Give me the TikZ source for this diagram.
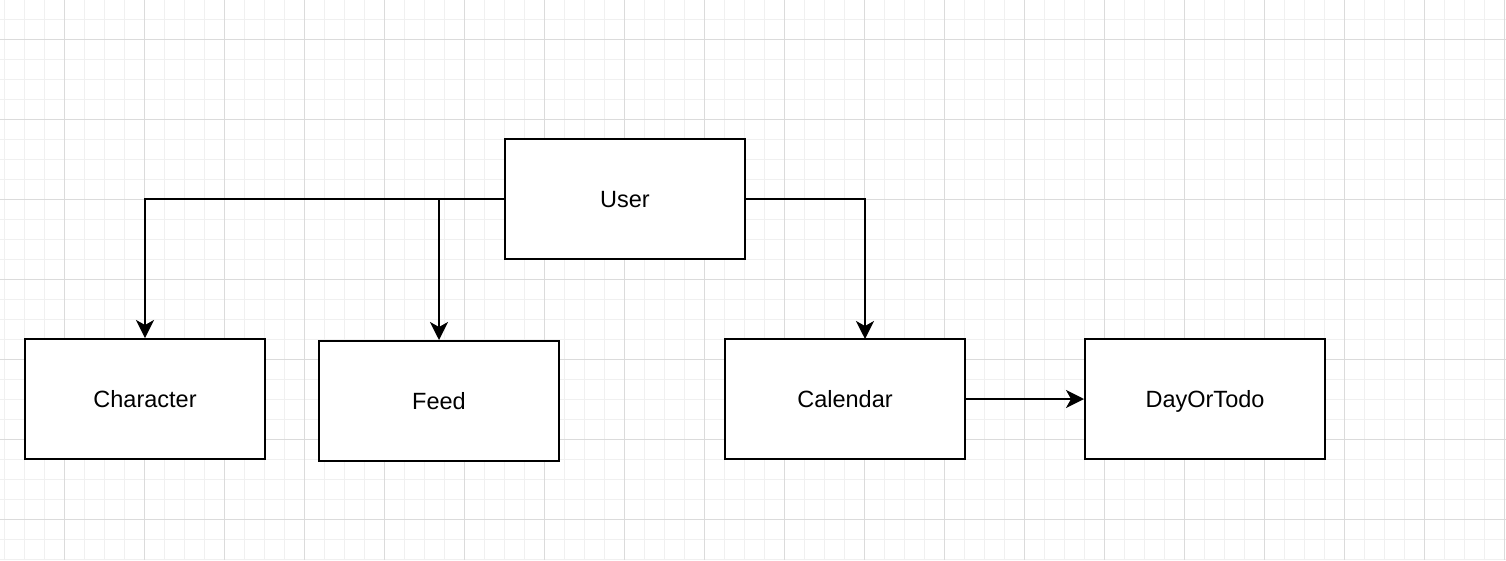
\documentclass[tikz,border=0pt]{standalone}
\usepackage{fontspec}
\setmainfont{Liberation Sans}
\usetikzlibrary{arrows.meta}
\begin{document}
\begin{tikzpicture}[x=1pt,y=-1pt,
  minorgrid/.style={draw=black!6,line width=1pt},
  majorgrid/.style={draw=black!14,line width=1pt},
  box/.style={draw=black,line width=2pt,fill=white,rectangle,minimum width=240pt,minimum height=120pt,inner sep=0pt,text height=16.8pt,text depth=0pt,font=\fontsize{23.5}{28}\selectfont},
  edge/.style={draw=black,line width=2pt,-{Stealth[length=18pt,width=18pt,inset=5pt]}}]
\useasboundingbox (0,0) rectangle (1506,560);
\fill[white] (0,0) rectangle (1506,560);
\foreach \x in {4,24,...,1504} \draw[minorgrid] (\x,0) -- (\x,560);
\foreach \y in {19,39,...,559} \draw[minorgrid] (0,\y) -- (1506,\y);
\foreach \x in {64,144,...,1504} \draw[majorgrid] (\x,0) -- (\x,560);
\foreach \y in {39,119,...,559} \draw[majorgrid] (0,\y) -- (1506,\y);
\node[box] (user) at (625,199) {User};
\node[box] (char) at (145,399) {Character};
\node[box] (feed) at (439,401) {Feed};
\node[box] (cal) at (845,399) {Calendar};
\node[box] (day) at (1205,399) {DayOrTodo};
\coordinate (calin) at (865,339);
\draw[edge] (user.west) -| (char.north);
\draw[edge] (user.west) -| (feed.north);
\draw[edge] (user.east) -| (calin);
\draw[edge] (cal.east) -- (day.west);
\end{tikzpicture}
\end{document}
